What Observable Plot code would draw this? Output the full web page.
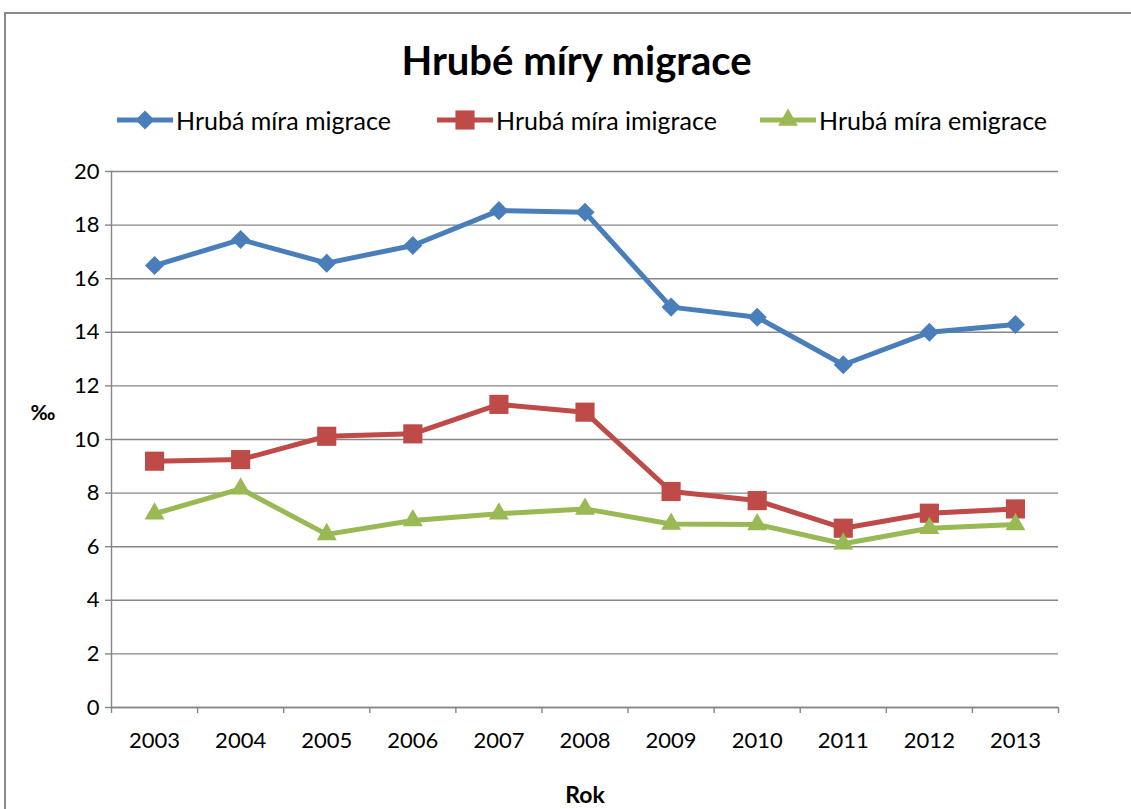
<!DOCTYPE html>
<html>
<head>
<meta charset="utf-8">
<script src="https://cdn.jsdelivr.net/npm/d3@7"></script>
<script src="https://cdn.jsdelivr.net/npm/@observablehq/plot@0.6"></script>
<style>
  html, body { margin: 0; padding: 0; background: #fff; overflow: hidden; }
  body { width: 1131px; height: 809px; position: relative; font-family: Lato, "Open Sans", sans-serif; }
  #frame { position: absolute; left: 4px; top: 12px; width: 1200px; height: 900px; border: 2px solid #8a8a8a; box-sizing: border-box; }
  #header { position: relative; height: 150px; }
  #title { position: absolute; left: 0; width: 1153px; top: 36px; text-align: center; font-weight: bold; font-size: 40px; line-height: 48px; color: #000; }
  .leg { position: absolute; top: 106px; height: 28px; display: flex; align-items: center; font-size: 25px; color: #000; white-space: nowrap; }
  .leg svg { margin-right: 3px; }
  #chart { position: relative; }
</style>
</head>
<body>
<div id="frame"></div>
<div id="header">
  <div id="title">Hrubé míry migrace</div>
  <div id="legend"></div>
</div>
<div id="chart"></div>
<script>
const years = [2003, 2004, 2005, 2006, 2007, 2008, 2009, 2010, 2011, 2012, 2013];
const migrace  = [16.49, 17.46, 16.58, 17.24, 18.54, 18.48, 14.94, 14.56, 12.79, 14.00, 14.29];
const imigrace = [9.19, 9.25, 10.12, 10.21, 11.31, 11.02, 8.06, 7.72, 6.69, 7.25, 7.41];
const emigrace = [7.23, 8.16, 6.46, 6.98, 7.23, 7.41, 6.85, 6.83, 6.11, 6.69, 6.83];
const seriesNames = ["Hrubá míra migrace", "Hrubá míra imigrace", "Hrubá míra emigrace"];
const seriesColors = ["#4a7ebb", "#be4b48", "#98b954"];
const seriesSymbols = ["diamond2", "square", "triangle"];
const seriesR = [8.6, 10.8, 7.4];
const yTicks = [0, 2, 4, 6, 8, 10, 12, 14, 16, 18, 20];
const yLabel = "‰";
const xLabel = "Rok";

const values = [migrace, imigrace, emigrace];
const data = [];
seriesNames.forEach((name, s) => years.forEach((yr, i) => data.push({series: name, year: yr, value: values[s][i]})));
const boundaries = years.map(y => y - 0.5).concat([years[years.length - 1] + 0.5]);
const grid = "#868686";

const lineMarks = [];
seriesNames.forEach((name, s) => {
  const d = data.filter(r => r.series === name);
  lineMarks.push(Plot.line(d, {x: "year", y: "value", stroke: seriesColors[s], strokeWidth: 5, strokeLinejoin: "round"}));
});
seriesNames.forEach((name, s) => {
  const d = data.filter(r => r.series === name);
  lineMarks.push(Plot.dot(d, {x: "year", y: "value", symbol: () => seriesSymbols[s], fill: seriesColors[s], stroke: "none", r: seriesR[s]}));
});

const chart = Plot.plot({
  width: 1131,
  height: 659,
  marginLeft: 111,
  marginRight: 73,
  marginTop: 21,
  marginBottom: 102,
  style: {fontFamily: "Lato, 'Open Sans', sans-serif", fontSize: "22px", color: "#000", background: "transparent", overflow: "visible"},
  x: {type: "linear", domain: [boundaries[0], boundaries[boundaries.length - 1]]},
  y: {domain: [yTicks[0], yTicks[yTicks.length - 1]]},
  symbol: {type: "identity"},
  marks: [
    Plot.gridY(yTicks, {stroke: grid, strokeOpacity: 1, strokeWidth: 1.4}),
    Plot.frame({anchor: "left", stroke: grid, strokeWidth: 1.4}),
    Plot.ruleY([yTicks[0]], {stroke: grid, strokeWidth: 1.4}),
    Plot.axisY(yTicks, {tickSize: 6, tickPadding: 6, fontSize: 22, stroke: grid, strokeWidth: 1.4, label: null, tickFormat: d => String(d)}),
    Plot.axisX(boundaries, {tickSize: 6, stroke: grid, strokeWidth: 1.4, tickFormat: () => "", label: null}),
    Plot.axisX(years, {tickSize: 0, tickPadding: 25, fontSize: 22, tickFormat: d => String(d), label: null}),
    ...lineMarks,
    Plot.text([yLabel], {frameAnchor: "left", dx: -81, dy: -26, text: d => d, fontSize: 21, fontWeight: "bold", fill: "#000"}),
    Plot.text([xLabel], {frameAnchor: "bottom", dy: 95, text: d => d, fontSize: 23, fontWeight: "bold", fill: "#000"})
  ]
});
document.getElementById("chart").appendChild(chart);

// legend
const legend = document.getElementById("legend");
const legLefts = [117, 437, 760];
seriesNames.forEach((name, s) => {
  const item = document.createElement("div");
  item.className = "leg";
  item.style.left = legLefts[s] + "px";
  const sv = d3.create("svg").attr("width", 56).attr("height", 24);
  sv.append("line").attr("x1", 0).attr("x2", 56).attr("y1", 12).attr("y2", 12).attr("stroke", seriesColors[s]).attr("stroke-width", 5);
  const symMap = {diamond2: d3.symbolDiamond2, square: d3.symbolSquare, triangle: d3.symbolTriangle};
  sv.append("path").attr("transform", "translate(28,12)").attr("fill", seriesColors[s])
    .attr("d", d3.symbol(symMap[seriesSymbols[s]], Math.PI * seriesR[s] * seriesR[s])());
  item.appendChild(sv.node());
  const t = document.createElement("span");
  t.textContent = name;
  item.appendChild(t);
  legend.appendChild(item);
});
</script>
</body>
</html>
